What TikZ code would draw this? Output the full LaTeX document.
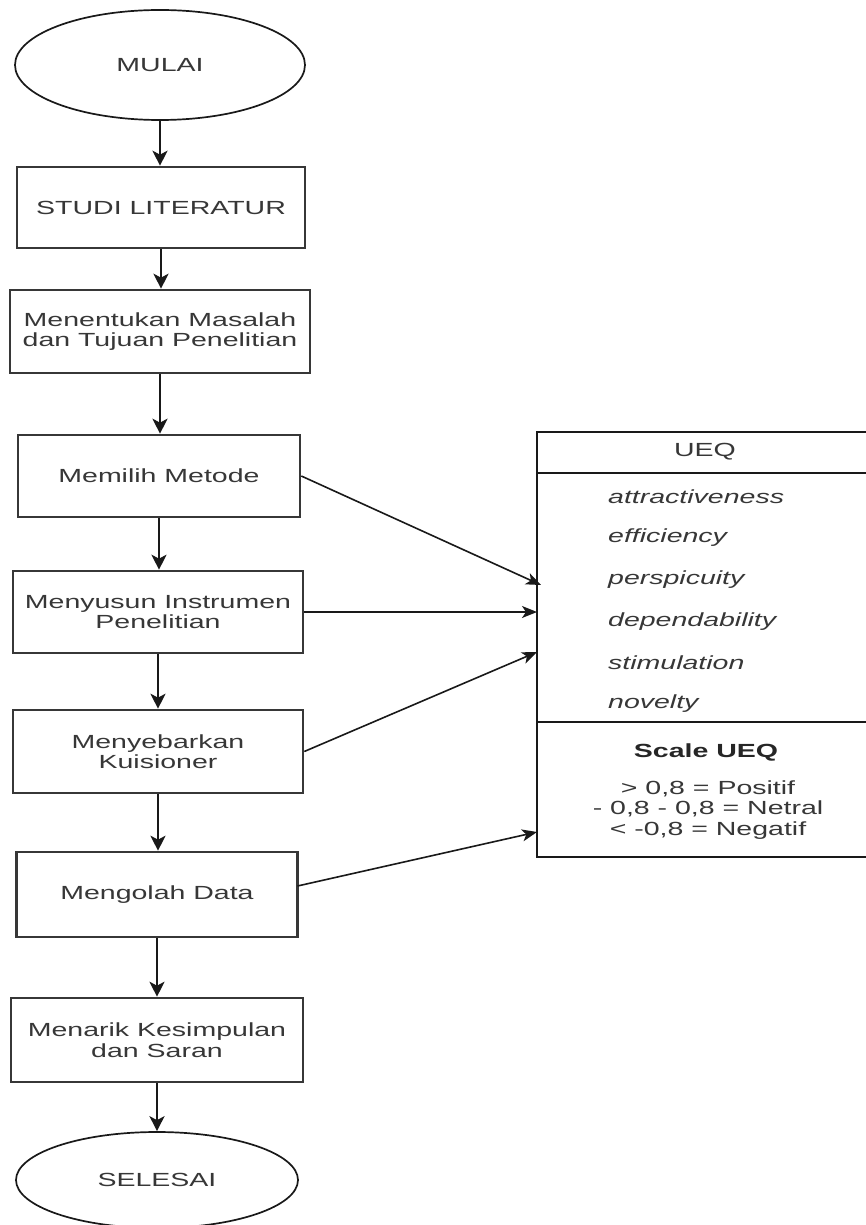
\documentclass[tikz,border=0pt]{standalone}
\usepackage{fontspec}
\setmainfont{Liberation Sans}[FakeStretch=1.5]
\usetikzlibrary{shapes.geometric,arrows.meta}
\definecolor{txt}{RGB}{55,55,55}
\definecolor{boxline}{RGB}{55,55,55}
\definecolor{ln}{RGB}{25,25,25}
\begin{document}
\begin{tikzpicture}[x=1pt,y=-1pt,
  every node/.style={font=\fontsize{19}{20.5}\selectfont, text=txt, inner sep=0pt},
  procbox/.style={draw=boxline, line width=2.6pt, rectangle, align=center},
  termbox/.style={draw=ln, line width=1.7pt, ellipse},
  arr/.style={draw=ln, line width=2.2pt, -{Stealth[length=15pt,width=15pt,inset=4pt]}},
  sidearr/.style={draw=ln, line width=1.6pt, -{Stealth[length=15pt,width=12pt,inset=4pt]}},
  item/.style={anchor=west, font=\fontsize{19}{20.5}\selectfont\itshape}
]
\useasboundingbox[fill=white] (0,0) rectangle (865,1225);

\node[termbox, minimum width=290pt, minimum height=110pt] (mulai) at (160,65) {MULAI};
\node[procbox, minimum width=288pt, minimum height=81pt] (studi) at (161,207.5) {STUDI LITERATUR};
\node[procbox, minimum width=300pt, minimum height=83pt] (masalah) at (160,331.5) {Menentukan Masalah\\dan Tujuan Penelitian};
\node[procbox, minimum width=282pt, minimum height=82pt] (metode) at (159,476) {Memilih Metode};
\node[procbox, minimum width=290pt, minimum height=82pt] (instrumen) at (158,612) {Menyusun Instrumen\\Penelitian};
\node[procbox, minimum width=290pt, minimum height=83pt] (kuisioner) at (158,751.5) {Menyebarkan\\Kuisioner};
\node[procbox, minimum width=281pt, minimum height=85pt] (olah) at (157,894.5) {Mengolah Data};
\node[procbox, minimum width=292pt, minimum height=84pt] (simpul) at (157,1040) {Menarik Kesimpulan\\dan Saran};
\node[termbox, minimum width=282pt, minimum height=96pt] (selesai) at (157,1180) {SELESAI};

% UEQ box
\node[draw=ln, line width=1.6pt, rectangle, minimum width=334pt, minimum height=425pt] (ueq) at (704,644.5) {};
\coordinate (h1l) at (537,473);
\coordinate (h1r) at (871,473);
\coordinate (h2l) at (537,722);
\coordinate (h2r) at (871,722);
\draw[draw=ln, line width=1.6pt] (h1l) -- (h1r);
\draw[draw=ln, line width=1.6pt] (h2l) -- (h2r);
\node (ueqtitle) at (705,452) {UEQ};
\node[item] (i1) at (608,497) {attractiveness};
\node[item] (i2) at (608,538) {efficiency};
\node[item] (i3) at (608,580) {perspicuity};
\node[item] (i4) at (608,622) {dependability};
\node[item] (i5) at (608,663) {stimulation};
\node[item] (i6) at (608,704) {novelty};
\node[font=\fontsize{19}{20.5}\selectfont\bfseries, text=black!85] (scale) at (706,752) {Scale UEQ};
\node[align=center] (scaletext) at (708,810) {> 0,8 = Positif\\- 0,8 - 0,8 = Netral\\< -0,8 = Negatif};

% vertical flow
\draw[arr] (mulai.south) -- (mulai.south |- studi.north);
\draw[arr] (studi.south) -- (studi.south |- masalah.north);
\draw[arr] (masalah.south) -- (masalah.south |- metode.north);
\draw[arr] (metode.south) -- (metode.south |- instrumen.north);
\draw[arr] (instrumen.south) -- (instrumen.south |- kuisioner.north);
\draw[arr] (kuisioner.south) -- (kuisioner.south |- olah.north);
\draw[arr] (olah.south) -- (olah.south |- simpul.north);
\draw[arr] (simpul.south) -- (simpul.south |- selesai.north);

% side connectors
\coordinate (t1) at (541,585);
\coordinate (t2) at (537,612);
\coordinate (t3) at (537,652);
\coordinate (t4) at (537,832);
\coordinate (s4) at (297.5,886);
\draw[sidearr] (metode.east) -- (t1);
\draw[sidearr] (instrumen.east) -- (t2);
\draw[sidearr] (kuisioner.east) -- (t3);
\draw[sidearr] (s4) -- (t4);
\end{tikzpicture}
\end{document}
